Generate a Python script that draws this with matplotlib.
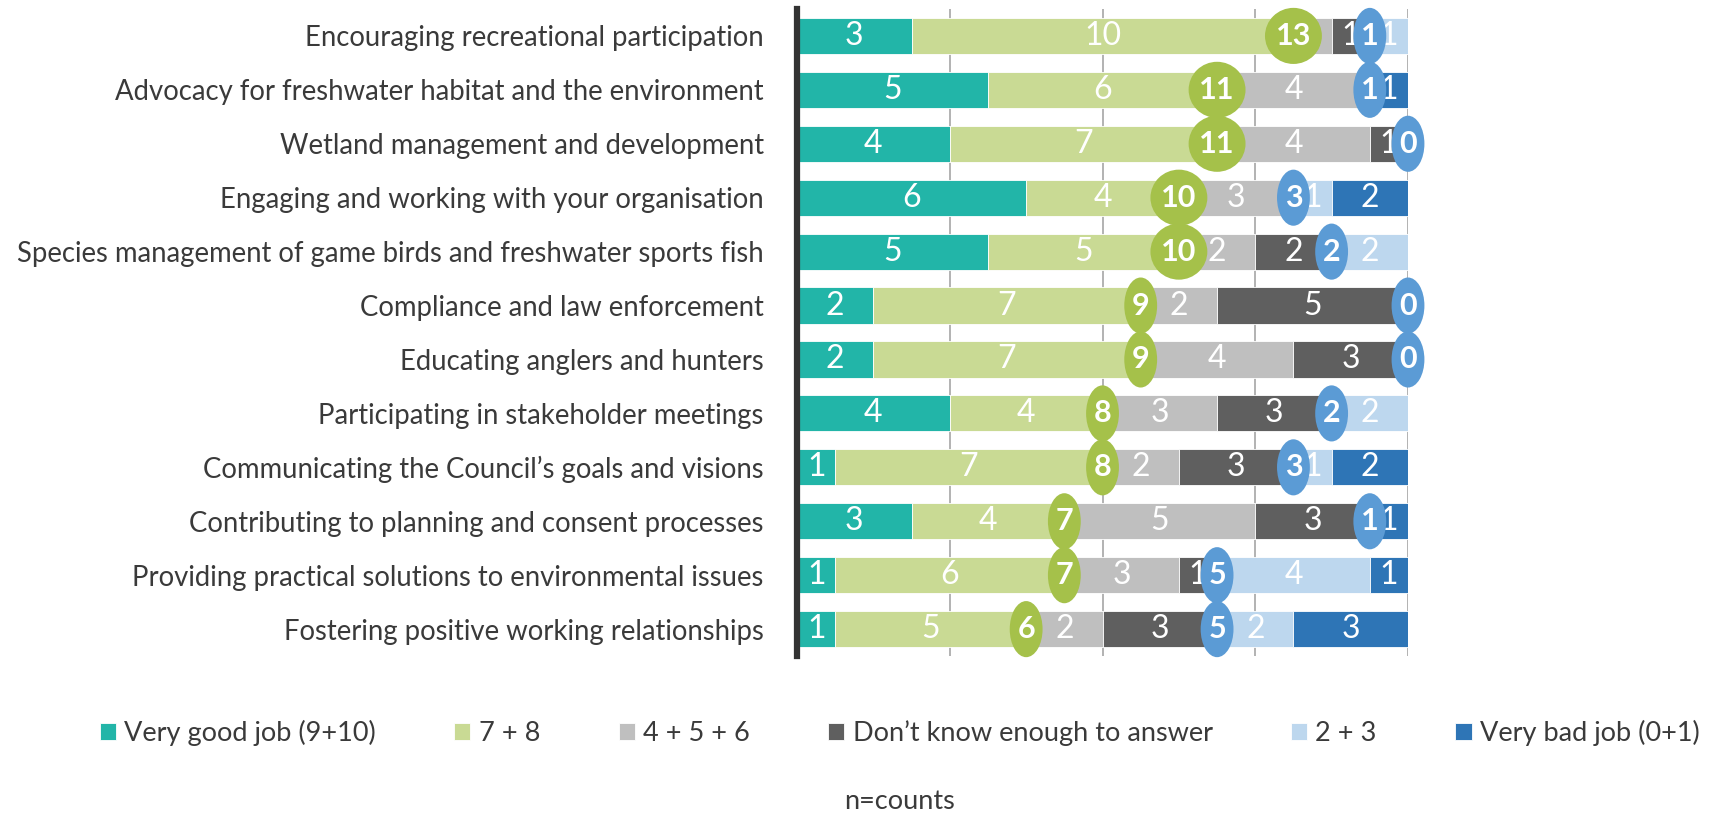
import numpy as np
import matplotlib.pyplot as plt
from matplotlib.patches import Ellipse

plt.rcParams['font.family'] = ['Lato', 'DejaVu Sans']

categories = [
    'Encouraging recreational participation',
    'Advocacy for freshwater habitat and the environment',
    'Wetland management and development',
    'Engaging and working with your organisation',
    'Species management of game birds and freshwater sports fish',
    'Compliance and law enforcement',
    'Educating anglers and hunters',
    'Participating in stakeholder meetings',
    'Communicating the Council\u2019s goals and visions',
    'Contributing to planning and consent processes',
    'Providing practical solutions to environmental issues',
    'Fostering positive working relationships',
]

very_good = [3, 5, 4, 6, 5, 2, 2, 4, 1, 3, 1, 1]
seven_eight = [10, 6, 7, 4, 5, 7, 7, 4, 7, 4, 6, 5]
four_six = [1, 4, 4, 3, 2, 2, 4, 3, 2, 5, 3, 2]
dont_know = [1, 0, 1, 0, 2, 5, 3, 3, 3, 3, 1, 3]
two_three = [1, 0, 0, 1, 2, 0, 0, 2, 1, 0, 4, 2]
very_bad = [0, 1, 0, 2, 0, 0, 0, 0, 2, 1, 1, 3]

series_names = ['Very good job (9+10)', '7 + 8', '4 + 5 + 6',
                'Don\u2019t know enough to answer', '2 + 3', 'Very bad job (0+1)']
colors = ['#22B5A8', '#C9DA94', '#BFBFBF', '#5F5F5F', '#BDD7EE', '#2E75B6']
green_circle = '#A5C14A'
blue_circle = '#5B9BD5'

series = [very_good, seven_eight, four_six, dont_know, two_three, very_bad]

fig = plt.figure(figsize=(17.2, 8.13), dpi=100)
ax = fig.add_axes([0.4634, 0.193, 0.3552, 0.796])

y = np.arange(len(categories))
left = np.zeros(len(categories))
bars = []
for vals, name, col in zip(series, series_names, colors):
    vals = np.array(vals)
    b = ax.barh(y, vals, left=left, height=0.67, color=col, label=name,
                edgecolor='white', linewidth=0.6, zorder=2)
    bars.append(b)
    for yi, (l, v) in enumerate(zip(left, vals)):
        if v > 0:
            ax.text(l + v / 2, yi, str(v), color='white', fontsize=23,
                    ha='center', va='center', zorder=3)
    left = left + vals

good = np.array(very_good) + np.array(seven_eight)
bad = np.array(two_three) + np.array(very_bad)
bad_pos = good + np.array(four_six) + np.array(dont_know)


def circle(x, yi, val, col):
    w = 1.49 if val >= 10 else 0.86
    e = Ellipse((x, yi), w, 1.04, facecolor=col, edgecolor='none',
                zorder=4, clip_on=False)
    ax.add_patch(e)
    ax.text(x, yi, str(val), color='white', fontsize=22, fontweight='bold',
            ha='center', va='center', zorder=5)


for yi in range(len(categories)):
    circle(good[yi], yi, good[yi], green_circle)
    circle(bad_pos[yi], yi, bad[yi], blue_circle)

ax.set_xlim(0, 16)
ax.set_ylim(len(categories) - 0.5, -0.5)
ax.set_xticks([0, 4, 8, 12, 16])
ax.set_xticklabels([])
ax.grid(axis='x', color='#A6A6A6', linewidth=1.2)
ax.set_axisbelow(True)
ax.set_yticks(y)
ax.set_yticklabels(categories, fontsize=19.8, color='#3A3A3A')
ax.tick_params(axis='both', length=0)
ax.tick_params(axis='y', pad=24)
for s in ['top', 'right', 'bottom']:
    ax.spines[s].set_visible(False)
ax.spines['left'].set_linewidth(4.5)
ax.spines['left'].set_color('#333333')
ax.spines['left'].set_zorder(6)

fig.legend(handles=bars, loc='center', bbox_to_anchor=(0.523, 0.098), ncol=6,
           frameon=False, fontsize=19.5, columnspacing=2.9, handlelength=0.6,
           handleheight=0.6, handletextpad=0.3, labelcolor='#3A3A3A')
fig.text(0.523, 0.014, 'n=counts', ha='center', va='center', fontsize=19.5,
         color='#3A3A3A')

fig.savefig('out.png', dpi=100)
